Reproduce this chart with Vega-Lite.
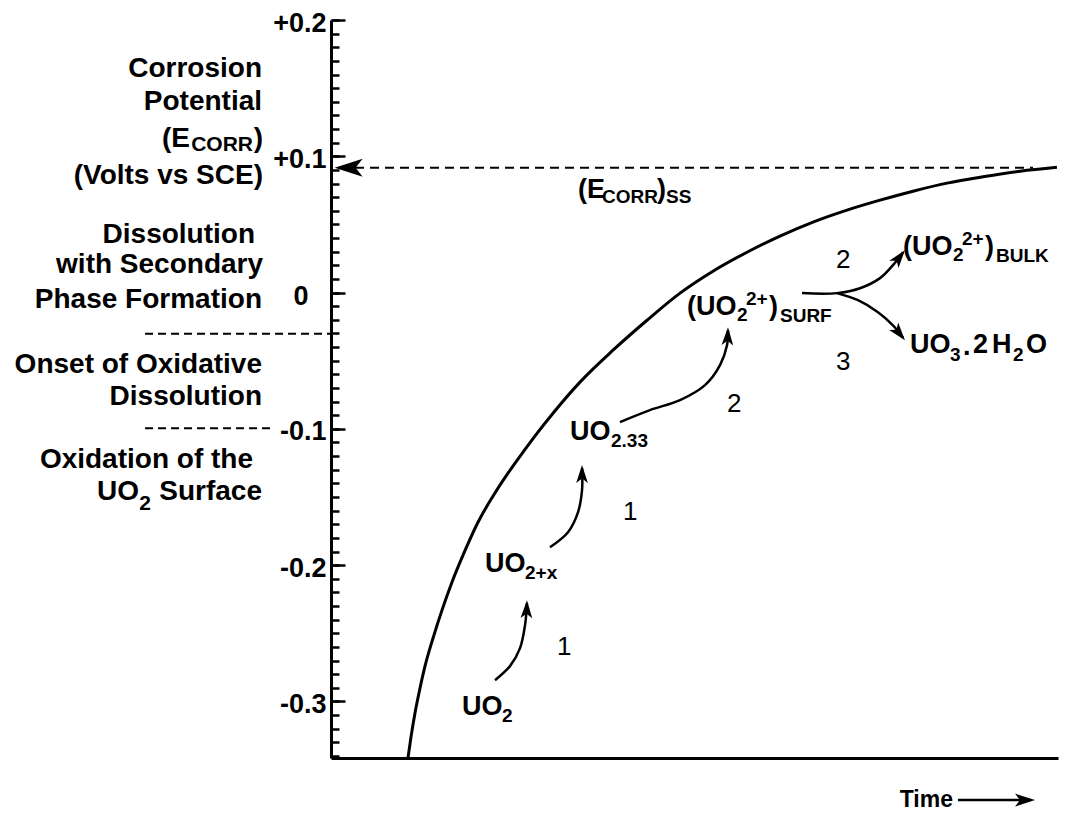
{
  "$schema": "https://vega.github.io/schema/vega-lite/v6.json",
  "width": 727,
  "height": 738,
  "autosize": "none",
  "padding": {"left": 331, "top": 20, "right": 9, "bottom": 55},
  "background": "white",
  "config": {"view": {"stroke": null}, "font": "Liberation Sans"},
  "datasets": {
    "curve": [
      {"t": 10.59, "v": -0.3415}, {"t": 11.0, "v": -0.3262}, {"t": 11.55, "v": -0.3086}, {"t": 12.24, "v": -0.2903},
      {"t": 13.07, "v": -0.2712}, {"t": 14.03, "v": -0.2536}, {"t": 15.27, "v": -0.233}, {"t": 16.64, "v": -0.2125},
      {"t": 18.16, "v": -0.1927}, {"t": 20.22, "v": -0.1685}, {"t": 22.28, "v": -0.1494}, {"t": 24.35, "v": -0.1325},
      {"t": 26.41, "v": -0.1171}, {"t": 28.47, "v": -0.1024}, {"t": 30.54, "v": -0.0885}, {"t": 34.25, "v": -0.0657},
      {"t": 38.79, "v": -0.0423}, {"t": 43.47, "v": -0.0203}, {"t": 48.01, "v": -0.0004}, {"t": 52.54, "v": 0.0157},
      {"t": 57.22, "v": 0.0296}, {"t": 61.76, "v": 0.0414}, {"t": 66.3, "v": 0.0517}, {"t": 70.98, "v": 0.0605},
      {"t": 75.52, "v": 0.0678}, {"t": 80.06, "v": 0.0744}, {"t": 84.73, "v": 0.0803}, {"t": 89.68, "v": 0.085},
      {"t": 94.77, "v": 0.0891}, {"t": 99.86, "v": 0.092}
    ],
    "arrows": [
      {"id": "a1", "i": 1, "t": 22.56, "v": -0.2844}, {"id": "a1", "i": 2, "t": 24.62, "v": -0.2741},
      {"id": "a1", "i": 3, "t": 26.0, "v": -0.2609}, {"id": "a1", "i": 4, "t": 26.69, "v": -0.244},
      {"id": "a1", "i": 5, "t": 26.96, "v": -0.2279},
      {"id": "a2", "i": 1, "t": 30.12, "v": -0.1868}, {"id": "a2", "i": 2, "t": 32.6, "v": -0.1758},
      {"id": "a2", "i": 3, "t": 33.98, "v": -0.1611}, {"id": "a2", "i": 4, "t": 34.53, "v": -0.145},
      {"id": "a2", "i": 5, "t": 34.53, "v": -0.1288},
      {"id": "a3", "i": 1, "t": 39.75, "v": -0.095}, {"id": "a3", "i": 2, "t": 43.88, "v": -0.0862},
      {"id": "a3", "i": 3, "t": 48.01, "v": -0.0789}, {"id": "a3", "i": 4, "t": 51.44, "v": -0.0679},
      {"id": "a3", "i": 5, "t": 53.51, "v": -0.0532}, {"id": "a3", "i": 6, "t": 54.47, "v": -0.0386},
      {"id": "a3", "i": 7, "t": 54.61, "v": -0.0276},
      {"id": "a4", "i": 1, "t": 64.79, "v": -0.0004}, {"id": "a4", "i": 2, "t": 69.6, "v": -0.0004},
      {"id": "a4", "i": 3, "t": 72.77, "v": 0.0032}, {"id": "a4", "i": 4, "t": 75.52, "v": 0.0106},
      {"id": "a4", "i": 5, "t": 77.3, "v": 0.0201}, {"id": "a4", "i": 6, "t": 78.68, "v": 0.0296},
      {"id": "a5", "i": 1, "t": 69.6, "v": -0.0004}, {"id": "a5", "i": 2, "t": 72.49, "v": -0.0056},
      {"id": "a5", "i": 3, "t": 75.24, "v": -0.0144}, {"id": "a5", "i": 4, "t": 77.3, "v": -0.024},
      {"id": "a5", "i": 5, "t": 78.68, "v": -0.0331}
    ],
    "heads": [
      {"t": 26.96, "v": -0.2257, "dir": 2},
      {"t": 34.53, "v": -0.1266, "dir": 0},
      {"t": 54.61, "v": -0.0254, "dir": 2},
      {"t": 78.95, "v": 0.0311, "dir": 38},
      {"t": 78.95, "v": -0.035, "dir": 141}
    ],
    "ssline": [{"t": 1.24, "t2": 96.56, "v": 0.0916}],
    "sshead": [{"t": 0.5, "v": 0.0916, "dir": 270}],
    "leftdash": [
      {"t": -25.58, "t2": -0.14, "v": -0.0302},
      {"t": -25.58, "t2": -8.12, "v": -0.0995}
    ],
    "timeline": [{"t": 86.24, "t2": 96.15, "v": -0.3724}],
    "timehead": [{"t": 96.84, "v": -0.3724, "dir": 90}],
    "timetext": [{"t": 85.56, "v": -0.3776, "text": "Time"}],
    "leftlabels": [
      {"t": -9.49, "v": 0.158, "text": "Corrosion"},
      {"t": -9.49, "v": 0.1338, "text": "Potential"},
      {"t": -19.4, "v": 0.1066, "text": "(E"},
      {"t": -9.35, "v": 0.1066, "text": ")"},
      {"t": -9.35, "v": 0.08, "text": "(Volts vs SCE)"},
      {"t": -10.45, "v": 0.0362, "text": "Dissolution"},
      {"t": -9.35, "v": 0.0142, "text": "with Secondary"},
      {"t": -9.49, "v": -0.0114, "text": "Phase Formation"},
      {"t": -9.49, "v": -0.0591, "text": "Onset of Oxidative"},
      {"t": -9.49, "v": -0.0826, "text": "Dissolution"},
      {"t": -10.73, "v": -0.1288, "text": "Oxidation of the"},
      {"t": -9.49, "v": -0.1523, "text": "Surface"},
      {"t": -26.41, "v": -0.1523, "text": "UO"}
    ],
    "leftsubs": [
      {"t": -10.73, "v": 0.1037, "text": "CORR"},
      {"t": -24.76, "v": -0.1597, "text": "2"}
    ],
    "mains": [
      {"t": 18.02, "v": -0.31, "text": "UO"},
      {"t": 21.18, "v": -0.2051, "text": "UO"},
      {"t": 32.87, "v": -0.1083, "text": "UO"},
      {"t": 48.97, "v": -0.0166, "text": "(UO"},
      {"t": 60.25, "v": -0.0166, "text": ")"},
      {"t": 78.68, "v": 0.0274, "text": "(UO"},
      {"t": 89.96, "v": 0.0274, "text": ")"},
      {"t": 79.64, "v": -0.0444, "text": "UO"},
      {"t": 86.93, "v": -0.0459, "text": "."},
      {"t": 88.31, "v": -0.0444, "text": "2"},
      {"t": 90.92, "v": -0.0444, "text": "H"},
      {"t": 95.6, "v": -0.0444, "text": "O"},
      {"t": 33.98, "v": 0.0693, "text": "(E"},
      {"t": 44.84, "v": 0.0693, "text": ")"}
    ],
    "subs": [
      {"t": 23.52, "v": -0.3152, "text": "2"},
      {"t": 26.69, "v": -0.2103, "text": "2+x"},
      {"t": 38.51, "v": -0.1134, "text": "2.33"},
      {"t": 55.85, "v": -0.021, "text": "2"},
      {"t": 57.08, "v": -0.0092, "text": "2+"},
      {"t": 61.76, "v": -0.0217, "text": "SURF"},
      {"t": 85.56, "v": 0.023, "text": "2"},
      {"t": 86.8, "v": 0.0348, "text": "2+"},
      {"t": 91.47, "v": 0.0223, "text": "BULK"},
      {"t": 85.14, "v": -0.0503, "text": "3"},
      {"t": 93.81, "v": -0.0503, "text": "2"},
      {"t": 37.28, "v": 0.0656, "text": "CORR"},
      {"t": 46.08, "v": 0.0656, "text": "SS"}
    ],
    "numbers": [
      {"t": 31.09, "v": -0.266, "text": "1"},
      {"t": 40.17, "v": -0.167, "text": "1"},
      {"t": 54.47, "v": -0.0878, "text": "2"},
      {"t": 69.46, "v": 0.0179, "text": "2"},
      {"t": 69.46, "v": -0.0569, "text": "3"}
    ]
  },
  "encoding": {
    "x": {"field": "t", "type": "quantitative", "scale": {"domain": [0, 100], "nice": false, "zero": false},
      "axis": {"ticks": false, "labels": false, "title": null, "grid": false, "domainColor": "black", "domainWidth": 3}},
    "y": {"field": "v", "type": "quantitative", "scale": {"domain": [-0.3415, 0.2], "nice": false, "zero": false}, "axis": null}
  },
  "layer": [
    {
      "data": {"name": "curve"},
      "mark": {"type": "line", "interpolate": "monotone", "color": "black", "strokeWidth": 3},
      "encoding": {
        "y": {"field": "v", "type": "quantitative", "scale": {"domain": [-0.3415, 0.2], "nice": false, "zero": false},
          "axis": {
            "orient": "left",
            "values": [-0.3, -0.2, -0.1, 0.1, 0.2],
            "ticks": false, "tickSize": 0,
            "domainColor": "black", "domainWidth": 3,
            "grid": false, "title": null,
            "labelFont": "Liberation Sans", "labelFontWeight": "bold", "labelFontSize": 27, "labelColor": "black",
            "labelPadding": 5, "labelOffset": 3, "labelFlush": false, "labelOverlap": false, "labelBound": false,
            "labelExpr": "datum.value > 0 ? '+' + format(datum.value, '.1f') : '-' + format(-datum.value, '.1f')"
          }}
      }
    },
    {
      "data": {"name": "leftdash"},
      "mark": {"type": "rule", "color": "black", "strokeWidth": 2, "strokeDash": [8, 5]},
      "encoding": {
        "x2": {"field": "t2"},
        "y": {"field": "v", "type": "quantitative", "scale": {"domain": [-0.3415, 0.2], "nice": false, "zero": false},
          "axis": {
            "orient": "left",
            "offset": -8,
            "values": [-0.34, -0.33, -0.32, -0.31, -0.3, -0.29, -0.28, -0.27, -0.26, -0.25, -0.24, -0.23, -0.22, -0.21, -0.2, -0.19, -0.18, -0.17, -0.16, -0.15, -0.14, -0.13, -0.12, -0.11, -0.1, -0.09, -0.08, -0.07, -0.06, -0.05, -0.04, -0.03, -0.02, -0.01, 0, 0.01, 0.02, 0.03, 0.04, 0.05, 0.06, 0.07, 0.08, 0.09, 0.1, 0.11, 0.12, 0.13, 0.14, 0.15, 0.16, 0.17, 0.18, 0.19, 0.2],
            "tickSize": 8, "tickWidth": 2.5, "tickColor": "black",
            "domain": false, "labels": false, "grid": false, "title": null
          }}
      }
    },
    {
      "data": {"name": "ssline"},
      "mark": {"type": "rule", "color": "black", "strokeWidth": 2, "strokeDash": [9, 6]},
      "encoding": {
        "x2": {"field": "t2"},
        "y": {"field": "v", "type": "quantitative", "scale": {"domain": [-0.3415, 0.2], "nice": false, "zero": false},
          "axis": {
            "orient": "left",
            "offset": -14,
            "values": [-0.3, -0.2, -0.1, 0, 0.1, 0.2],
            "tickSize": 14, "tickWidth": 2.5, "tickColor": "black",
            "domain": false, "labels": false, "grid": false, "title": null
          }}
      }
    },
    {
      "data": {"name": "timeline"},
      "mark": {"type": "rule", "color": "black", "strokeWidth": 2.5},
      "encoding": {
        "x2": {"field": "t2"},
        "y": {"field": "v", "type": "quantitative", "scale": {"domain": [-0.3415, 0.2], "nice": false, "zero": false},
          "axis": {
            "orient": "left",
            "offset": 18,
            "values": [0],
            "ticks": false, "tickSize": 0,
            "domain": false, "grid": false, "title": null,
            "labelFont": "Liberation Sans", "labelFontWeight": "bold", "labelFontSize": 27, "labelColor": "black",
            "labelPadding": 5, "labelOffset": 4, "labelFlush": false, "labelOverlap": false, "labelBound": false,
            "labelExpr": "'0'"
          }}
      }
    },
    {
      "data": {"name": "arrows"},
      "mark": {"type": "line", "interpolate": "catmull-rom", "color": "black", "strokeWidth": 2.5},
      "encoding": {"detail": {"field": "id"}, "order": {"field": "i", "type": "quantitative"}}
    },
    {
      "data": {"name": "heads"},
      "mark": {"type": "point", "shape": "M0,0L0.65,2L0,1.5L-0.65,2Z", "filled": true, "color": "black", "opacity": 1, "size": 324, "strokeWidth": 0},
      "encoding": {"angle": {"field": "dir", "type": "quantitative", "scale": null}}
    },
    {
      "data": {"name": "sshead"},
      "mark": {"type": "point", "shape": "M0,0L0.65,2L0,1.5L-0.65,2Z", "filled": true, "color": "black", "opacity": 1, "size": 784, "strokeWidth": 0},
      "encoding": {"angle": {"field": "dir", "type": "quantitative", "scale": null}}
    },
    {
      "data": {"name": "timehead"},
      "mark": {"type": "point", "shape": "M0,0L0.65,2L0,1.5L-0.65,2Z", "filled": true, "color": "black", "opacity": 1, "size": 400, "strokeWidth": 0},
      "encoding": {"angle": {"field": "dir", "type": "quantitative", "scale": null}}
    },
    {
      "data": {"name": "timetext"},
      "mark": {"type": "text", "align": "right", "baseline": "alphabetic", "font": "Liberation Sans", "fontWeight": "bold", "fontSize": 23, "color": "black"},
      "encoding": {"text": {"field": "text"}}
    },
    {
      "data": {"name": "leftlabels"},
      "mark": {"type": "text", "align": "right", "baseline": "alphabetic", "font": "Liberation Sans", "fontWeight": "bold", "fontSize": 28, "color": "black"},
      "encoding": {"text": {"field": "text"}}
    },
    {
      "data": {"name": "leftsubs"},
      "mark": {"type": "text", "align": "right", "baseline": "alphabetic", "font": "Liberation Sans", "fontWeight": "bold", "fontSize": 21, "color": "black"},
      "encoding": {"text": {"field": "text"}}
    },
    {
      "data": {"name": "mains"},
      "mark": {"type": "text", "align": "left", "baseline": "alphabetic", "font": "Liberation Sans", "fontWeight": "bold", "fontSize": 27, "color": "black"},
      "encoding": {"text": {"field": "text"}}
    },
    {
      "data": {"name": "subs"},
      "mark": {"type": "text", "align": "left", "baseline": "alphabetic", "font": "Liberation Sans", "fontWeight": "bold", "fontSize": 19, "color": "black"},
      "encoding": {"text": {"field": "text"}}
    },
    {
      "data": {"name": "numbers"},
      "mark": {"type": "text", "align": "left", "baseline": "alphabetic", "font": "Liberation Sans", "fontWeight": "normal", "fontSize": 26, "color": "black"},
      "encoding": {"text": {"field": "text"}}
    }
  ],
  "resolve": {"axis": {"y": "independent"}}
}
